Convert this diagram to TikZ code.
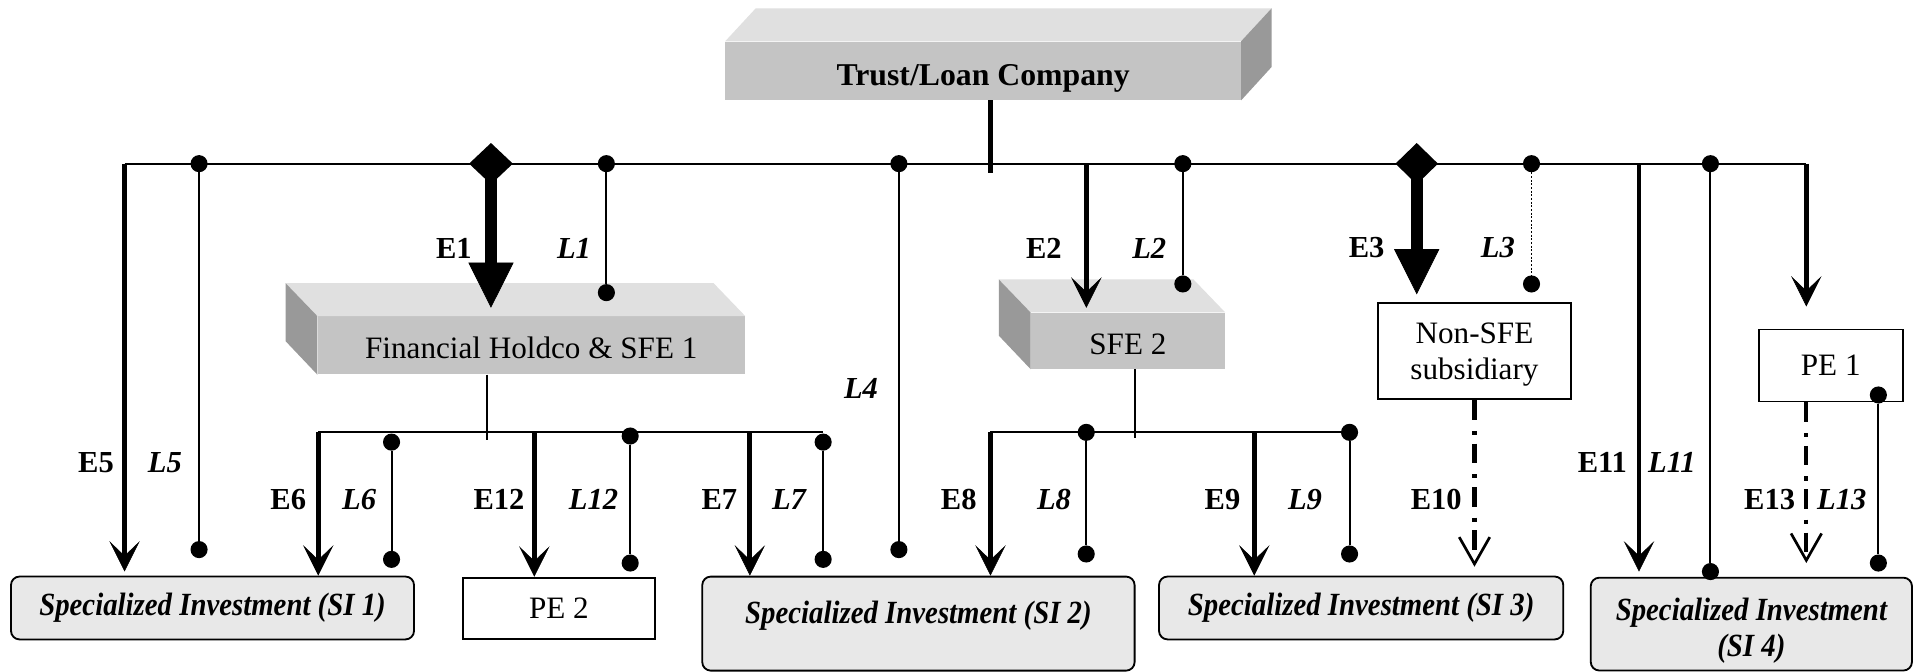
\documentclass[tikz,border=0pt]{standalone}
\usepackage{fontspec}
\setmainfont{Liberation Serif}
\newfontfamily\condserif[FakeStretch=0.89]{Liberation Serif}
\usetikzlibrary{arrows.meta,calc,shapes.geometric}
\definecolor{frontg}{RGB}{196,196,196}
\definecolor{topg}{RGB}{224,224,224}
\definecolor{sideg}{RGB}{153,153,153}
\definecolor{sig}{RGB}{232,232,232}
\newcommand\myreg{\fontsize{25.5}{29}\selectfont}
\newcommand\mylbl{\fontsize{25}{28}\selectfont}
\newcommand\mysi{\condserif\bfseries\itshape\fontsize{26.5}{30}\selectfont}
\newcommand\mytrust{\bfseries\fontsize{26}{30}\selectfont}
\begin{document}
\begin{tikzpicture}[x=1pt,y=-1pt,
 thinl/.style={line width=1.6pt},
 eline/.style={line width=4pt,-{Stealth[length=25pt,width=25pt,inset=12pt,line width=0.5pt]}},
 bige/.style={line width=10pt,-{Triangle[length=37pt,width=37pt,line width=0.5pt]}},
 dashe/.style={line width=3.5pt,dash pattern=on 16pt off 9pt on 3.5pt off 7pt,-{Straight Barb[length=22pt,width=25pt,line width=2.2pt]}},
 dot/.style={circle,fill=black,inner sep=0pt,minimum size=14pt},
 diam/.style={diamond,fill=black,inner sep=0pt,minimum width=36pt,minimum height=34pt},
 front/.style={fill=frontg,inner sep=0pt,font=\myreg},
 plainbox/.style={draw=black,line width=1.5pt,fill=white,inner sep=0pt,font=\myreg,align=center},
 sibox/.style={draw=black,line width=1.5pt,fill=sig,rounded corners=7pt,inner sep=0pt,font=\mysi,align=center},
 elbl/.style={font=\mylbl\bfseries,inner sep=0pt},
 llbl/.style={font=\mylbl\bfseries\itshape,inner sep=0pt}]
\fill[white] (0,0) rectangle (1568,550);
\useasboundingbox (0,0) rectangle (1568,550);

% 3D boxes
\node[front,minimum width=422pt,minimum height=48pt,font=\mytrust] (trust) at (805,58) {\rule{0pt}{29.5pt}Trust/Loan Company};
\fill[topg] (trust.north west) -- ++(25,-27) -- ($(trust.north east)+(25,-27)$) -- (trust.north east) -- cycle;
\fill[sideg] (trust.north east) -- ++(25,-27) -- ++(0,48) -- (trust.south east) -- cycle;

\node[front,minimum width=350pt,minimum height=47.5pt] (fh) at (435,282.75) {\rule{0pt}{22pt}Financial Holdco \& SFE 1};
\fill[topg] (fh.north west) -- ++(-26,-27) -- ($(fh.north east)+(-26,-27)$) -- (fh.north east) -- cycle;
\fill[sideg] (fh.north west) -- ++(-26,-27) -- ++(0,47.5) -- (fh.south west) -- cycle;

\node[front,minimum width=159pt,minimum height=46pt] (sfe2) at (923.5,279) {\rule{0pt}{22pt}SFE 2};
\fill[topg] (sfe2.north west) -- ++(-26,-27) -- ($(sfe2.north east)+(-26,-27)$) -- (sfe2.north east) -- cycle;
\fill[sideg] (sfe2.north west) -- ++(-26,-27) -- ++(0,46) -- (sfe2.south west) -- cycle;

% plain boxes
\node[plainbox,minimum width=157.4pt,minimum height=78.6pt] (nonsfe) at (1207.3,287.7) {\rule{0pt}{22pt}Non-SFE\\subsidiary};
\node[plainbox,minimum width=118pt,minimum height=59pt] (pe1) at (1499,299.3) {PE 1};
\node[plainbox,minimum width=157pt,minimum height=50pt] (pe2) at (457.6,498) {PE 2};

% SI boxes
\node[sibox,minimum width=330pt,minimum height=51.5pt] (si1) at (174,497.8) {Specialized Investment (SI 1)};
\node[sibox,minimum width=354pt,minimum height=77pt,text height=19pt,text depth=19pt] (si2) at (752,510.6) {Specialized Investment (SI 2)};
\node[sibox,minimum width=331pt,minimum height=51.5pt] (si3) at (1114.5,497.8) {Specialized Investment (SI 3)};
\node[sibox,minimum width=263pt,minimum height=76pt] (si4) at (1434,511) {\rule{0pt}{29pt}Specialized Investment\\(SI 4)};

% coordinates
\coordinate (busL) at (102,134);
\coordinate (busR) at (1479,134);
\coordinate (e2s) at (889.5,134);
\coordinate (e11s) at (1342,134);
\coordinate (stubB) at (811,142);
\coordinate (e1t) at (402,252);
\coordinate (e2t) at (889.5,252);
\coordinate (e3t) at (1160,241);
\coordinate (pe1t) at (1479,251);
\coordinate (e5t) at (102,468);
\coordinate (e11t) at (1342,468);
\coordinate (fhbL) at (260.6,354);
\coordinate (fhbR) at (674,354);
\coordinate (e12s) at (437.5,354);
\coordinate (e7s) at (614,354);
\coordinate (sfbL) at (811,354);
\coordinate (sfbR) at (1105,354);
\coordinate (e9s) at (1027,354);
\coordinate (fhd) at (398.5,360);
\coordinate (sfd) at (929,359);
\coordinate (e10t) at (1207.3,464);
\coordinate (e13t) at (1479,461);

% main bus and stub
\draw[thinl] (busL) -- (busR);
\draw[line width=3.5pt] (trust.south -| stubB) -- (stubB);

% sub-buses
\draw[thinl] (fhbL) -- (fhbR);
\draw[thinl] (fh.south -| fhd) -- (fhd);
\draw[thinl] (sfbL) -- (sfbR);
\draw[thinl] (sfe2.south -| sfd) -- (sfd);

% diamonds and big arrows
\node[diam] (d1) at (402,134) {};
\node[diam,minimum width=35pt] (d3) at (1160,134) {};
\draw[bige] (d1.center) -- (e1t);
\draw[bige] (d3.center) -- (e3t);

% E arrows
\draw[eline] (e2s) -- (e2t);
\draw[eline] (busR) -- (pe1t);
\draw[eline] (busL) -- (e5t);
\draw[eline] (e11s) -- (e11t);
\draw[eline] (fhbL) -- (fhbL |- si1.north);
\draw[eline] (e12s) -- (e12s |- pe2.north);
\draw[eline] (e7s) -- (e7s |- si2.north);
\draw[eline] (sfbL) -- (sfbL |- si2.north);
\draw[eline] (e9s) -- (e9s |- si3.north);
\draw[dashe] (nonsfe.south) -- (e10t);
\draw[dashe] (pe1.south -| busR) -- (e13t);

% L links with dots
\node[dot] (l5a) at (163,134) {};   \node[dot] (l5b) at (163,450) {};
\node[dot] (l1a) at (496.5,134) {}; \node[dot] (l1b) at (496.5,239.6) {};
\node[dot] (l4a) at (736,134) {};   \node[dot] (l4b) at (736,450) {};
\node[dot] (l2a) at (968.5,134) {}; \node[dot] (l2b) at (968.5,232.5) {};
\node[dot] (l3a) at (1254,134) {};  \node[dot] (l3b) at (1254,232.5) {};
\node[dot] (l11a) at (1400.5,134) {}; \node[dot] (l11b) at (1400.5,468) {};
\node[dot] (l6a) at (320.6,362) {}; \node[dot] (l6b) at (320.6,458) {};
\node[dot] (l12a) at (516,357) {};  \node[dot] (l12b) at (516,461) {};
\node[dot] (l7a) at (674,362) {};   \node[dot] (l7b) at (674,458) {};
\node[dot] (l8a) at (889.4,354) {}; \node[dot] (l8b) at (889.4,453.6) {};
\node[dot] (l9a) at (1105,354) {};  \node[dot] (l9b) at (1105,453.6) {};
\node[dot] (l13a) at (1538,323.4) {}; \node[dot] (l13b) at (1538,461) {};
\draw[thinl] (l5a) -- (l5b);
\draw[thinl] (l1a) -- (l1b);
\draw[thinl] (l4a) -- (l4b);
\draw[thinl] (l2a) -- (l2b);
\draw[line width=1.3pt,dash pattern=on 1.5pt off 1.5pt] (l3a) -- (l3b);
\draw[thinl] (l11a) -- (l11b);
\draw[thinl] (l6a) -- (l6b);
\draw[thinl] (l12a) -- (l12b);
\draw[thinl] (l7a) -- (l7b);
\draw[thinl] (l8a) -- (l8b);
\draw[thinl] (l9a) -- (l9b);
\draw[thinl] (l13a) -- (l13b);

% labels
\node[elbl] (tE1) at (371.6,203) {E1};
\node[llbl] (tL1) at (470,203) {L1};
\node[elbl] (tE2) at (854.7,203) {E2};
\node[llbl] (tL2) at (941,203) {L2};
\node[elbl] (tE3) at (1119,203) {E3};
\node[llbl] (tL3) at (1226.5,203) {L3};
\node[llbl] (tL4) at (705,318) {L4};
\node[elbl] (tE5) at (78.6,379) {E5};
\node[llbl] (tL5) at (135,379) {L5};
\node[elbl] (tE11) at (1312,379) {E11};
\node[llbl] (tL11) at (1369,379) {L11};
\node[elbl] (tE6) at (236,409) {E6};
\node[llbl] (tL6) at (294,409) {L6};
\node[elbl] (tE12) at (408.6,409) {E12};
\node[llbl] (tL12) at (486,409) {L12};
\node[elbl] (tE7) at (589,409) {E7};
\node[llbl] (tL7) at (646,409) {L7};
\node[elbl] (tE8) at (785,409) {E8};
\node[llbl] (tL8) at (863,409) {L8};
\node[elbl] (tE9) at (1001,409) {E9};
\node[llbl] (tL9) at (1068.5,409) {L9};
\node[elbl] (tE10) at (1176,409) {E10};
\node[elbl] (tE13) at (1449,409) {E13};
\node[llbl] (tL13) at (1508,409) {L13};
\end{tikzpicture}
\end{document}
